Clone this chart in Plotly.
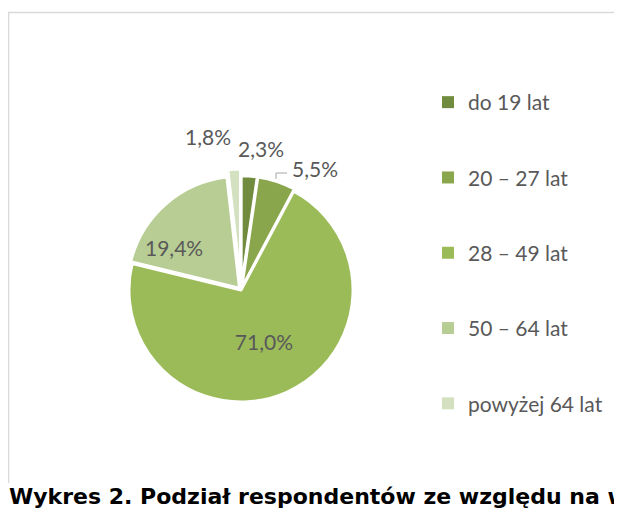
import plotly.graph_objects as go

categories = ["do 19 lat", "20 – 27 lat", "28 – 49 lat", "50 – 64 lat", "powyżej 64 lat"]
values = [2.3, 5.5, 71.0, 19.4, 1.8]
colors = ["#718c3f", "#8aa64d", "#9bbb59", "#b8cd94", "#d3e1c0"]
pulls = [0.02, 0.02, 0.0, 0.02, 0.08]
inside_text = [False, False, True, False, False]
# label anchor points (page pixels) for slices labelled by annotation
label_pos = {0: (261, 148), 4: (208, 136), 1: (315, 168), 3: (174, 247)}

# the page body has an 8px margin: work in page pixels and convert
OFF = 8
W, H = 622 - OFF, 512 - OFF
def px(x): return (x - OFF) / W
def py(y): return 1 - (y - OFF) / H

def fmt(v):
    return f"{v:.1f}".replace(".", ",") + "%"

label_font = dict(family="Lato, Noto Sans, sans-serif", size=21, color="#595959")

fig = go.Figure()
fig.add_trace(go.Pie(
    labels=categories, values=values, sort=False, direction="clockwise", rotation=0,
    marker=dict(colors=colors, line=dict(color="white", width=3)),
    pull=pulls, textposition="inside",
    texttemplate=["%{value:.1f}%" if t else "" for t in inside_text],
    insidetextorientation="horizontal",
    textfont=label_font, showlegend=False, hoverinfo="label+value",
    domain=dict(x=[px(120), px(362)], y=[py(411), py(169)]),
))
for name, c in zip(categories, colors):
    fig.add_trace(go.Scatter(
        x=[None], y=[None], mode="markers", name=name, legendgroup=name,
        marker=dict(symbol="square", size=8, color=c), showlegend=True,
    ))

annotations = []
for i, (x, y) in label_pos.items():
    annotations.append(dict(text=fmt(values[i]), xref="paper", yref="paper",
                            x=px(x), y=py(y), xanchor="center", yanchor="middle",
                            showarrow=False, font=label_font))
annotations.append(dict(text="<b>Wykres 2. Podział respondentów ze względu na wiek</b>",
                        xref="paper", yref="paper", x=px(7), y=py(496),
                        xanchor="left", yanchor="middle", showarrow=False,
                        font=dict(family="DejaVu Sans", size=22, color="black")))

fig.update_layout(
    width=W, height=H, margin=dict(l=0, r=0, t=0, b=0),
    paper_bgcolor="white", plot_bgcolor="white", separators=", ",
    xaxis=dict(visible=False), yaxis=dict(visible=False),
    legend=dict(x=px(428), xanchor="left", y=py(82), yanchor="top",
                traceorder="grouped", tracegroupgap=45, itemsizing="constant",
                font=label_font, bgcolor="rgba(0,0,0,0)"),
    shapes=[
        dict(type="path", xref="paper", yref="paper",
             path=f"M 1.05 {py(12.5)} L {px(8.5)} {py(12.5)} L {px(8.5)} {py(483)}",
             line=dict(color="#d9d9d9", width=1.5)),
        dict(type="path", xref="paper", yref="paper",
             path=f"M {px(276)} {py(179)} L {px(276)} {py(173)} L {px(287)} {py(173)}",
             line=dict(color="#a6a6a6", width=1)),
    ],
    annotations=annotations,
)
fig.write_html("out.html")
